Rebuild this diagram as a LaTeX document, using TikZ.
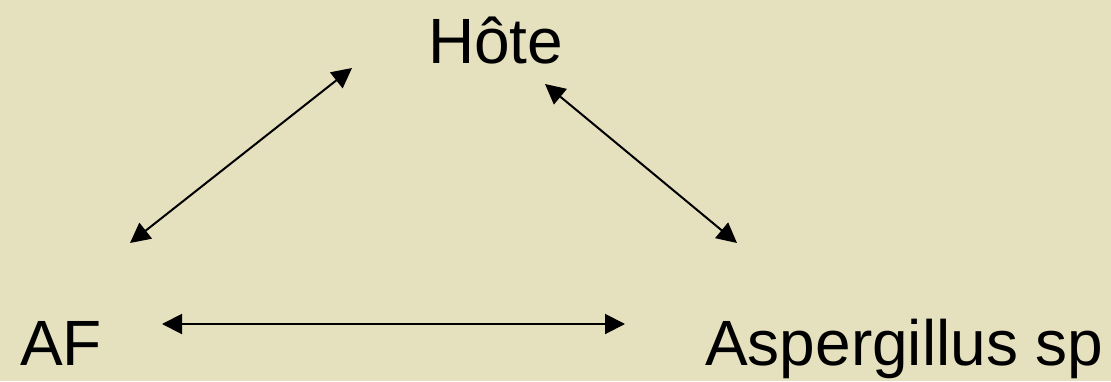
\documentclass[tikz,border=0pt]{standalone}
\usepackage{fontspec}
\setmainfont{Liberation Sans}
\usepackage{xcolor}
\usetikzlibrary{
arrows.meta,
positioning
}
\definecolor{paper}{RGB}{229,224,190}

\begin{document}
\begin{tikzpicture}[x=1pt,y=-1pt,
    label/.style={inner sep=0pt,anchor=base west,font=\fontsize{64}{70}\selectfont},
    link/.style={{Triangle[length=20pt,width=20pt]}-{Triangle[length=20pt,width=20pt]},line width=2pt}]
    \fill[paper] (0,0) rectangle (1111,381);
    \useasboundingbox (0,0) rectangle (1111,381);

    \node[label] (hote) at (428,63) {Hôte};
    \node[label] (af) at (20,365) {AF};
    \node[label] (asp) at (705,365) {Aspergillus sp};

    \coordinate (hoteL) at (352,68);
    \coordinate (hoteR) at (545,84);
    \coordinate (afU) at (130,243);
    \coordinate (afR) at (162,324);
    \coordinate (aspU) at (737,243);
    \coordinate (aspL) at (625,324);

    \draw[link] (afU) -- (hoteL);
    \draw[link] (hoteR) -- (aspU);
    \draw[link] (afR) -- (aspL);
  \end{tikzpicture}
\end{document}
